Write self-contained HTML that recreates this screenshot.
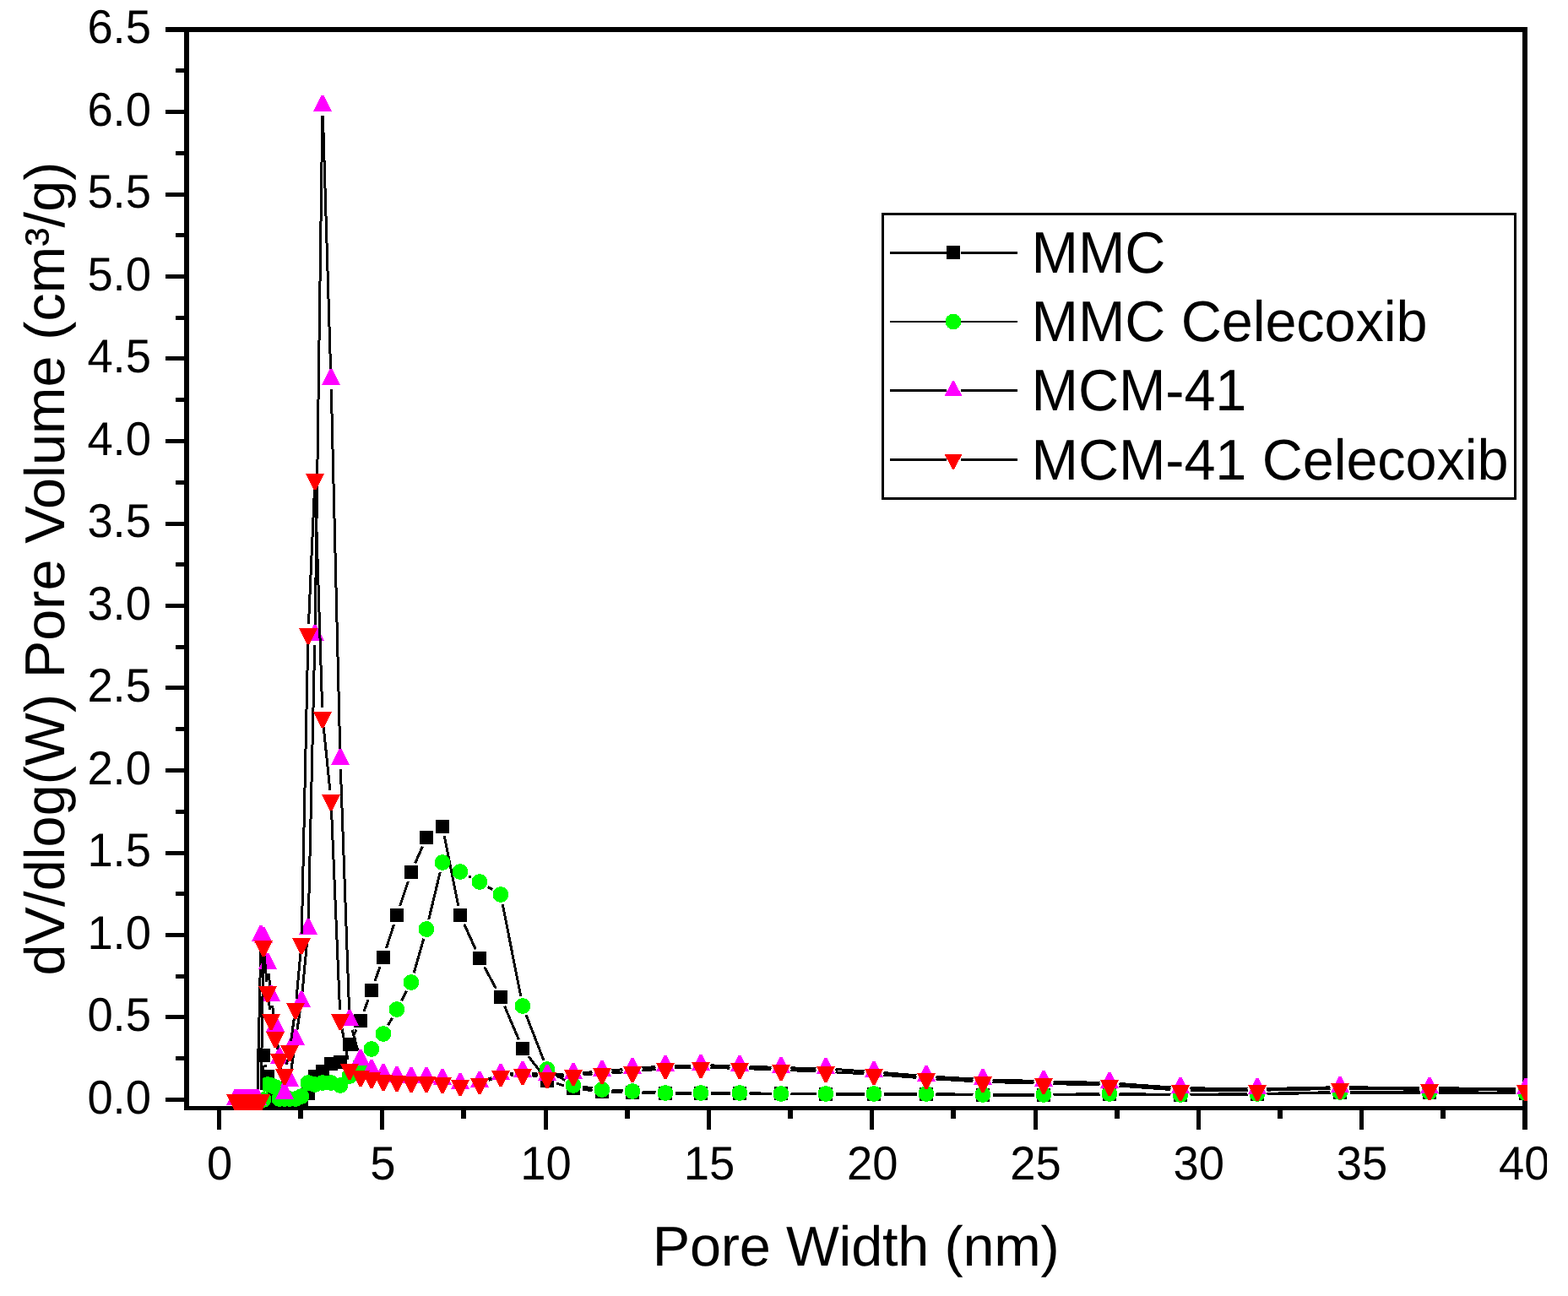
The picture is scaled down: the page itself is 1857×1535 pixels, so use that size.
<!DOCTYPE html>
<html lang="en"><head><meta charset="utf-8"><title>Pore size distribution</title>
<style>html,body{margin:0;padding:0;background:#fff}svg{display:block}text{text-rendering:geometricPrecision;font-family:"Liberation Sans",sans-serif;fill:#000}.t{font-size:54.4px}.b{font-size:66.6px}</style></head><body>
<svg width="1857" height="1535" viewBox="0 0 1857 1535">
<rect width="1857" height="1535" fill="#fff"/>
<g shape-rendering="crispEdges" fill="#000">
<rect x="196" y="32" width="1613" height="6"/>
<rect x="218" y="1310" width="1591" height="5"/>
<rect x="218" y="32" width="6" height="1283"/>
<rect x="1803" y="32" width="6" height="1306"/>
<rect x="196" y="1300" width="24" height="5"/>
<rect x="208" y="1251" width="12" height="5"/>
<rect x="196" y="1202" width="24" height="5"/>
<rect x="208" y="1154" width="12" height="5"/>
<rect x="196" y="1105" width="24" height="5"/>
<rect x="208" y="1056" width="12" height="5"/>
<rect x="196" y="1008" width="24" height="5"/>
<rect x="208" y="959" width="12" height="5"/>
<rect x="196" y="910" width="24" height="5"/>
<rect x="208" y="861" width="12" height="5"/>
<rect x="196" y="812" width="24" height="5"/>
<rect x="208" y="764" width="12" height="5"/>
<rect x="196" y="715" width="24" height="5"/>
<rect x="208" y="666" width="12" height="5"/>
<rect x="196" y="618" width="24" height="5"/>
<rect x="208" y="569" width="12" height="5"/>
<rect x="196" y="520" width="24" height="5"/>
<rect x="208" y="471" width="12" height="5"/>
<rect x="196" y="422" width="24" height="5"/>
<rect x="208" y="374" width="12" height="5"/>
<rect x="196" y="325" width="24" height="5"/>
<rect x="208" y="276" width="12" height="5"/>
<rect x="196" y="228" width="24" height="5"/>
<rect x="208" y="179" width="12" height="5"/>
<rect x="196" y="130" width="24" height="5"/>
<rect x="208" y="81" width="12" height="5"/>
<rect x="257" y="1313" width="5" height="25"/>
<rect x="353" y="1313" width="6" height="12"/>
<rect x="450" y="1313" width="5" height="25"/>
<rect x="546" y="1313" width="6" height="12"/>
<rect x="644" y="1313" width="5" height="25"/>
<rect x="740" y="1313" width="6" height="12"/>
<rect x="837" y="1313" width="5" height="25"/>
<rect x="933" y="1313" width="6" height="12"/>
<rect x="1030" y="1313" width="5" height="25"/>
<rect x="1126" y="1313" width="6" height="12"/>
<rect x="1224" y="1313" width="5" height="25"/>
<rect x="1320" y="1313" width="6" height="12"/>
<rect x="1417" y="1313" width="5" height="25"/>
<rect x="1513" y="1313" width="6" height="12"/>
<rect x="1610" y="1313" width="5" height="25"/>
<rect x="1706" y="1313" width="6" height="12"/>
</g>
<g class="t">
<text transform="translate(179 1318.5) scale(1 1.03)" text-anchor="end">0.0</text>
<text transform="translate(179 1221) scale(1 1.03)" text-anchor="end">0.5</text>
<text transform="translate(179 1123.5) scale(1 1.03)" text-anchor="end">1.0</text>
<text transform="translate(179 1026) scale(1 1.03)" text-anchor="end">1.5</text>
<text transform="translate(179 928.5) scale(1 1.03)" text-anchor="end">2.0</text>
<text transform="translate(179 831) scale(1 1.03)" text-anchor="end">2.5</text>
<text transform="translate(179 733.5) scale(1 1.03)" text-anchor="end">3.0</text>
<text transform="translate(179 636) scale(1 1.03)" text-anchor="end">3.5</text>
<text transform="translate(179 538.5) scale(1 1.03)" text-anchor="end">4.0</text>
<text transform="translate(179 441) scale(1 1.03)" text-anchor="end">4.5</text>
<text transform="translate(179 343.5) scale(1 1.03)" text-anchor="end">5.0</text>
<text transform="translate(179 246) scale(1 1.03)" text-anchor="end">5.5</text>
<text transform="translate(179 148.5) scale(1 1.03)" text-anchor="end">6.0</text>
<text transform="translate(179 51) scale(1 1.03)" text-anchor="end">6.5</text>
<text transform="translate(260 1397) scale(1 1.03)" text-anchor="middle">0</text>
<text transform="translate(453.3 1397) scale(1 1.03)" text-anchor="middle">5</text>
<text transform="translate(646.6 1397) scale(1 1.03)" text-anchor="middle">10</text>
<text transform="translate(839.9 1397) scale(1 1.03)" text-anchor="middle">15</text>
<text transform="translate(1033.2 1397) scale(1 1.03)" text-anchor="middle">20</text>
<text transform="translate(1226.5 1397) scale(1 1.03)" text-anchor="middle">25</text>
<text transform="translate(1419.8 1397) scale(1 1.03)" text-anchor="middle">30</text>
<text transform="translate(1613.1 1397) scale(1 1.03)" text-anchor="middle">35</text>
<clipPath id="k"><rect x="1760" y="1340" width="72" height="70"/></clipPath>
<g clip-path="url(#k)"><text transform="translate(1805.3 1397) scale(1 1.03)" text-anchor="middle">40</text></g>
</g>
<text class="b" transform="translate(1013.6 1498.6) scale(1 1.0)" text-anchor="middle" letter-spacing="-0.2">Pore Width (nm)</text>
<text class="b" transform="translate(76 673.5) rotate(-90) scale(1 1.0)" text-anchor="middle" letter-spacing="0.06">dV/dlog(W) Pore Volume (cm³/g)</text>
<defs><clipPath id="c"><rect x="218" y="32" width="1591" height="1283"/></clipPath></defs>
<g clip-path="url(#c)" shape-rendering="crispEdges">
<path d="M309.7 1290.5L311.3 1261.5M314.3 1261.3L314.7 1263.7M318.7 1286.4L319.3 1290.6M418.8 1226.6L422.2 1219.4M430.9 1198.2L436.1 1183.8M443.9 1162.2L450.1 1144.8M457.5 1123L466.5 1095M473.6 1073.1L483.4 1043.9M491.6 1022.5L500.4 1002.5M526.3 990.3L542.7 1072.7M549.7 1094.5L563.3 1124.5M573.5 1145.1L587.5 1170.9M597.5 1191.6L614.5 1231.4M626 1251.1L641 1270.9M659 1283.2L668 1285.8M690.4 1290.3L701.6 1291.7M724.5 1293.3L737.5 1293.7M760.5 1294.3L776.5 1294.7M799.5 1295L818.5 1295M841.5 1295L864.5 1295M887.5 1295L913.5 1295M936.5 1295.2L966.5 1295.8M989.5 1296L1023.5 1296M1046.5 1296L1085.5 1296M1108.5 1296.2L1152.5 1296.8M1175.5 1297L1224.5 1297M1247.5 1296.9L1302.5 1296.1M1325.5 1296.1L1386.5 1296.9M1409.5 1296.9L1477.5 1296.1M1500.5 1295.8L1575.5 1294.2M1598.5 1294L1681.5 1294M1704.5 1294.1L1795.5 1294.9" fill="none" stroke="#000" stroke-width="3"/>
<path d="M301 1294h16v16h-16zM304 1242h16v16h-16zM309 1267h16v16h-16zM313 1294h16v16h-16zM318 1294h16v16h-16zM323 1294h16v16h-16zM329 1294h16v16h-16zM335 1294h16v16h-16zM342 1294h16v16h-16zM349 1294h16v16h-16zM357 1287h16v16h-16zM365 1267h16v16h-16zM374 1261h16v16h-16zM384 1252h16v16h-16zM395 1250h16v16h-16zM406 1229h16v16h-16zM419 1201h16v16h-16zM432 1165h16v16h-16zM446 1126h16v16h-16zM462 1076h16v16h-16zM479 1025h16v16h-16zM497 984h16v16h-16zM516 971h16v16h-16zM537 1076h16v16h-16zM560 1127h16v16h-16zM585 1173h16v16h-16zM611 1234h16v16h-16zM640 1272h16v16h-16zM671 1281h16v16h-16zM705 1285h16v16h-16zM741 1286h16v16h-16zM780 1287h16v16h-16zM822 1287h16v16h-16zM868 1287h16v16h-16zM917 1287h16v16h-16zM970 1288h16v16h-16zM1027 1288h16v16h-16zM1089 1288h16v16h-16zM1156 1289h16v16h-16zM1228 1289h16v16h-16zM1306 1288h16v16h-16zM1390 1289h16v16h-16zM1481 1288h16v16h-16zM1579 1286h16v16h-16zM1685 1286h16v16h-16zM1799 1287h16v16h-16z" fill="#000"/>
<path d="M459.6 1214.4L464.4 1205.6M475.4 1185.3L481.6 1173.7M490.2 1152.4L501.8 1111.6M507.7 1089.3L521.3 1032.7M555.2 1037.8L557.8 1039.2M577.9 1050.4L583.1 1053.6M595.2 1070.8L616.8 1180.2M623.1 1202.2L643.9 1255.8M657.8 1272.5L669.2 1279.5M690.4 1287.2L701.6 1288.8M724.5 1291.1L737.5 1291.9M760.5 1293.1L776.5 1293.9M799.5 1294.5L818.5 1294.5M841.5 1294.5L864.5 1294.5M887.5 1294.7L913.5 1295.3M936.5 1295.5L966.5 1295.5M989.5 1295.5L1023.5 1295.5M1046.5 1295.5L1085.5 1295.5M1108.5 1295.7L1152.5 1296.3M1175.5 1296.5L1224.5 1296.5M1247.5 1296.4L1302.5 1295.6M1325.5 1295.6L1386.5 1296.4M1409.5 1296.4L1477.5 1295.6M1500.5 1295.3L1575.5 1293.7M1598.5 1293.5L1681.5 1293.5M1704.5 1293.6L1795.5 1294.4" fill="none" stroke="#000" stroke-width="3"/>
<path d="M302.55 1302.5a9.45 9.45 0 1 0 18.9 0a9.45 9.45 0 1 0 -18.9 0zM307.55 1284.5a9.45 9.45 0 1 0 18.9 0a9.45 9.45 0 1 0 -18.9 0zM311.55 1285.5a9.45 9.45 0 1 0 18.9 0a9.45 9.45 0 1 0 -18.9 0zM316.55 1287.5a9.45 9.45 0 1 0 18.9 0a9.45 9.45 0 1 0 -18.9 0zM321.55 1301.5a9.45 9.45 0 1 0 18.9 0a9.45 9.45 0 1 0 -18.9 0zM327.55 1301.5a9.45 9.45 0 1 0 18.9 0a9.45 9.45 0 1 0 -18.9 0zM333.55 1301.5a9.45 9.45 0 1 0 18.9 0a9.45 9.45 0 1 0 -18.9 0zM340.55 1301.5a9.45 9.45 0 1 0 18.9 0a9.45 9.45 0 1 0 -18.9 0zM347.55 1298.5a9.45 9.45 0 1 0 18.9 0a9.45 9.45 0 1 0 -18.9 0zM355.55 1282.5a9.45 9.45 0 1 0 18.9 0a9.45 9.45 0 1 0 -18.9 0zM363.55 1284.5a9.45 9.45 0 1 0 18.9 0a9.45 9.45 0 1 0 -18.9 0zM372.55 1282.5a9.45 9.45 0 1 0 18.9 0a9.45 9.45 0 1 0 -18.9 0zM382.55 1282.5a9.45 9.45 0 1 0 18.9 0a9.45 9.45 0 1 0 -18.9 0zM393.55 1285.5a9.45 9.45 0 1 0 18.9 0a9.45 9.45 0 1 0 -18.9 0zM404.55 1274.5a9.45 9.45 0 1 0 18.9 0a9.45 9.45 0 1 0 -18.9 0zM417.55 1260.5a9.45 9.45 0 1 0 18.9 0a9.45 9.45 0 1 0 -18.9 0zM430.55 1242.5a9.45 9.45 0 1 0 18.9 0a9.45 9.45 0 1 0 -18.9 0zM444.55 1224.5a9.45 9.45 0 1 0 18.9 0a9.45 9.45 0 1 0 -18.9 0zM460.55 1195.5a9.45 9.45 0 1 0 18.9 0a9.45 9.45 0 1 0 -18.9 0zM477.55 1163.5a9.45 9.45 0 1 0 18.9 0a9.45 9.45 0 1 0 -18.9 0zM495.55 1100.5a9.45 9.45 0 1 0 18.9 0a9.45 9.45 0 1 0 -18.9 0zM514.55 1021.5a9.45 9.45 0 1 0 18.9 0a9.45 9.45 0 1 0 -18.9 0zM535.55 1032.5a9.45 9.45 0 1 0 18.9 0a9.45 9.45 0 1 0 -18.9 0zM558.55 1044.5a9.45 9.45 0 1 0 18.9 0a9.45 9.45 0 1 0 -18.9 0zM583.55 1059.5a9.45 9.45 0 1 0 18.9 0a9.45 9.45 0 1 0 -18.9 0zM609.55 1191.5a9.45 9.45 0 1 0 18.9 0a9.45 9.45 0 1 0 -18.9 0zM638.55 1266.5a9.45 9.45 0 1 0 18.9 0a9.45 9.45 0 1 0 -18.9 0zM669.55 1285.5a9.45 9.45 0 1 0 18.9 0a9.45 9.45 0 1 0 -18.9 0zM703.55 1290.5a9.45 9.45 0 1 0 18.9 0a9.45 9.45 0 1 0 -18.9 0zM739.55 1292.5a9.45 9.45 0 1 0 18.9 0a9.45 9.45 0 1 0 -18.9 0zM778.55 1294.5a9.45 9.45 0 1 0 18.9 0a9.45 9.45 0 1 0 -18.9 0zM820.55 1294.5a9.45 9.45 0 1 0 18.9 0a9.45 9.45 0 1 0 -18.9 0zM866.55 1294.5a9.45 9.45 0 1 0 18.9 0a9.45 9.45 0 1 0 -18.9 0zM915.55 1295.5a9.45 9.45 0 1 0 18.9 0a9.45 9.45 0 1 0 -18.9 0zM968.55 1295.5a9.45 9.45 0 1 0 18.9 0a9.45 9.45 0 1 0 -18.9 0zM1025.55 1295.5a9.45 9.45 0 1 0 18.9 0a9.45 9.45 0 1 0 -18.9 0zM1087.55 1295.5a9.45 9.45 0 1 0 18.9 0a9.45 9.45 0 1 0 -18.9 0zM1154.55 1296.5a9.45 9.45 0 1 0 18.9 0a9.45 9.45 0 1 0 -18.9 0zM1226.55 1296.5a9.45 9.45 0 1 0 18.9 0a9.45 9.45 0 1 0 -18.9 0zM1304.55 1295.5a9.45 9.45 0 1 0 18.9 0a9.45 9.45 0 1 0 -18.9 0zM1388.55 1296.5a9.45 9.45 0 1 0 18.9 0a9.45 9.45 0 1 0 -18.9 0zM1479.55 1295.5a9.45 9.45 0 1 0 18.9 0a9.45 9.45 0 1 0 -18.9 0zM1577.55 1293.5a9.45 9.45 0 1 0 18.9 0a9.45 9.45 0 1 0 -18.9 0zM1683.55 1293.5a9.45 9.45 0 1 0 18.9 0a9.45 9.45 0 1 0 -18.9 0zM1797.55 1294.5a9.45 9.45 0 1 0 18.9 0a9.45 9.45 0 1 0 -18.9 0z" fill="#0f0"/>
<path d="M305.2 1291.2L308.8 1120.2M313.8 1122.1L315.2 1130.3M318.2 1153.1L319.8 1168.3M322.6 1191.1L324.4 1204.3M327.5 1227.1L329.5 1242.3M332.6 1265.1L335.4 1284.3M344.6 1269.3L348.4 1243.1M351.8 1220.3L355.2 1198.1M358.1 1175.2L363.9 1112.2M365.3 1089.2L372.7 764.2M373.2 741.2L381.8 137.2M382.4 137.2L391.6 438.2M392.3 461.2L402.7 888.2M403.4 911.2L413.6 1197.2M417.1 1219.8L423.9 1244.6M578.8 1277.8L582.2 1276.6M604.4 1271.4L607.6 1271M630.4 1271.3L636.6 1272.1M659.5 1273L667.5 1272.4M690.5 1270.7L701.5 1269.7M724.5 1267.7L737.5 1266.7M760.5 1264.8L776.5 1263.6M799.5 1262.4L818.5 1262M841.5 1261.9L864.5 1262.5M887.5 1263.2L913.5 1264.2M936.5 1264.9L966.5 1265.5M989.5 1266.5L1023.5 1268.9M1046.5 1270.6L1085.5 1273.8M1108.5 1275.4L1152.5 1278M1175.5 1279L1224.5 1280.4M1247.5 1281L1302.5 1282.4M1325.5 1283.5L1386.5 1287.9M1409.5 1288.8L1477.5 1289.6M1500.5 1289.5L1575.5 1287.9M1598.5 1287.8L1681.5 1288.6M1704.5 1288.8L1795.5 1289.6" fill="none" stroke="#000" stroke-width="3"/>
<path d="M277.4 1290L280.6 1290L290.2 1309L267.8 1309zM279.4 1290L282.6 1290L292.2 1309L269.8 1309zM280.4 1290L283.6 1290L293.2 1309L270.8 1309zM282.4 1290L285.6 1290L295.2 1309L272.8 1309zM284.4 1290L287.6 1290L297.2 1309L274.8 1309zM286.4 1290L289.6 1290L299.2 1309L276.8 1309zM288.4 1290L291.6 1290L301.2 1309L278.8 1309zM291.4 1290L294.6 1290L304.2 1309L281.8 1309zM293.4 1290L296.6 1290L306.2 1309L283.8 1309zM296.4 1290L299.6 1290L309.2 1309L286.8 1309zM299.4 1290L302.6 1290L312.2 1309L289.8 1309zM303.4 1290L306.6 1290L316.2 1309L293.8 1309zM307.4 1096L310.6 1096L320.2 1115L297.8 1115zM310.4 1098L313.6 1098L323.2 1117L300.8 1117zM315.4 1129L318.6 1129L328.2 1148L305.8 1148zM319.4 1167L322.6 1167L332.2 1186L309.8 1186zM324.4 1203L327.6 1203L337.2 1222L314.8 1222zM329.4 1241L332.6 1241L342.2 1260L319.8 1260zM335.4 1283L338.6 1283L348.2 1302L325.8 1302zM341.4 1268L344.6 1268L354.2 1287L331.8 1287zM348.4 1219L351.6 1219L361.2 1238L338.8 1238zM355.4 1174L358.6 1174L368.2 1193L345.8 1193zM363.4 1088L366.6 1088L376.2 1107L353.8 1107zM371.4 740L374.6 740L384.2 759L361.8 759zM380.4 113L383.6 113L393.2 132L370.8 132zM390.4 437L393.6 437L403.2 456L380.8 456zM401.4 887L404.6 887L414.2 906L391.8 906zM412.4 1196L415.6 1196L425.2 1215L402.8 1215zM425.4 1243L428.6 1243L438.2 1262L415.8 1262zM438.4 1255L441.6 1255L451.2 1274L428.8 1274zM452.4 1260L455.6 1260L465.2 1279L442.8 1279zM468.4 1263L471.6 1263L481.2 1282L458.8 1282zM485.4 1264L488.6 1264L498.2 1283L475.8 1283zM503.4 1264L506.6 1264L516.2 1283L493.8 1283zM522.4 1266L525.6 1266L535.2 1285L512.8 1285zM543.4 1271L546.6 1271L556.2 1290L533.8 1290zM566.4 1269L569.6 1269L579.2 1288L556.8 1288zM591.4 1260L594.6 1260L604.2 1279L581.8 1279zM617.4 1257L620.6 1257L630.2 1276L607.8 1276zM646.4 1261L649.6 1261L659.2 1280L636.8 1280zM677.4 1259L680.6 1259L690.2 1278L667.8 1278zM711.4 1256L714.6 1256L724.2 1275L701.8 1275zM747.4 1253L750.6 1253L760.2 1272L737.8 1272zM786.4 1250L789.6 1250L799.2 1269L776.8 1269zM828.4 1249L831.6 1249L841.2 1268L818.8 1268zM874.4 1250L877.6 1250L887.2 1269L864.8 1269zM923.4 1252L926.6 1252L936.2 1271L913.8 1271zM976.4 1253L979.6 1253L989.2 1272L966.8 1272zM1033.4 1257L1036.6 1257L1046.2 1276L1023.8 1276zM1095.4 1262L1098.6 1262L1108.2 1281L1085.8 1281zM1162.4 1266L1165.6 1266L1175.2 1285L1152.8 1285zM1234.4 1268L1237.6 1268L1247.2 1287L1224.8 1287zM1312.4 1270L1315.6 1270L1325.2 1289L1302.8 1289zM1396.4 1276L1399.6 1276L1409.2 1295L1386.8 1295zM1487.4 1277L1490.6 1277L1500.2 1296L1477.8 1296zM1585.4 1275L1588.6 1275L1598.2 1294L1575.8 1294zM1691.4 1276L1694.6 1276L1704.2 1295L1681.8 1295zM1805.4 1277L1808.6 1277L1818.2 1296L1795.8 1296z" fill="#f0f"/>
<path d="M309.2 1290.8L311.8 1131.8M313.1 1131.8L315.9 1162.8M318.4 1185.7L319.6 1195.9M328.2 1239.6L328.8 1243M339.4 1261.1L340.6 1255.5M344.6 1232.9L348.4 1205.7M351 1182.8L356 1128.8M357.3 1105.8L364.7 761.8M365.5 738.8L372.5 578.8M373.4 578.8L381.6 837.8M383.2 860.7L390.8 935.9M392.5 958.8L402.5 1195.8M405.1 1218.6L411.9 1255M578.8 1279.4L582.2 1278.2M604.5 1273.4L607.5 1273.2M630.4 1273.9L636.6 1274.7M659.4 1275.2L667.6 1274.4M690.5 1272.6L701.5 1272M724.5 1270.7L737.5 1269.9M760.4 1268.1L776.6 1266.5M799.5 1265L818.5 1264.6M841.5 1264.5L864.5 1265.1M887.5 1265.8L913.5 1266.8M936.5 1267.7L966.5 1268.9M989.5 1269.9L1023.5 1271.7M1046.5 1273.2L1085.5 1276.4M1108.5 1278L1152.5 1280.6M1175.5 1281.6L1224.5 1283M1247.5 1283.6L1302.5 1285M1325.5 1286.1L1386.5 1290.5M1409.5 1291.3L1477.5 1291.3M1500.5 1291.1L1575.5 1289.5M1598.5 1289.4L1681.5 1290.2M1704.5 1290.4L1795.5 1291.2" fill="none" stroke="#000" stroke-width="3"/>
<path d="M267.8 1296L290.2 1296L280.6 1315L277.4 1315zM269.8 1296L292.2 1296L282.6 1315L279.4 1315zM270.8 1296L293.2 1296L283.6 1315L280.4 1315zM272.8 1296L295.2 1296L285.6 1315L282.4 1315zM274.8 1296L297.2 1296L287.6 1315L284.4 1315zM276.8 1296L299.2 1296L289.6 1315L286.4 1315zM278.8 1296L301.2 1296L291.6 1315L288.4 1315zM281.8 1296L304.2 1296L294.6 1315L291.4 1315zM283.8 1296L306.2 1296L296.6 1315L293.4 1315zM286.8 1296L309.2 1296L299.6 1315L296.4 1315zM289.8 1296L312.2 1296L302.6 1315L299.4 1315zM293.8 1296L316.2 1296L306.6 1315L303.4 1315zM297.8 1296L320.2 1296L310.6 1315L307.4 1315zM300.8 1114L323.2 1114L313.6 1133L310.4 1133zM305.8 1168L328.2 1168L318.6 1187L315.4 1187zM309.8 1201L332.2 1201L322.6 1220L319.4 1220zM314.8 1222L337.2 1222L327.6 1241L324.4 1241zM319.8 1248L342.2 1248L332.6 1267L329.4 1267zM325.8 1266L348.2 1266L338.6 1285L335.4 1285zM331.8 1238L354.2 1238L344.6 1257L341.4 1257zM338.8 1188L361.2 1188L351.6 1207L348.4 1207zM345.8 1111L368.2 1111L358.6 1130L355.4 1130zM353.8 744L376.2 744L366.6 763L363.4 763zM361.8 561L384.2 561L374.6 580L371.4 580zM370.8 843L393.2 843L383.6 862L380.4 862zM380.8 941L403.2 941L393.6 960L390.4 960zM391.8 1201L414.2 1201L404.6 1220L401.4 1220zM402.8 1260L425.2 1260L415.6 1279L412.4 1279zM415.8 1268L438.2 1268L428.6 1287L425.4 1287zM428.8 1270L451.2 1270L441.6 1289L438.4 1289zM442.8 1273L465.2 1273L455.6 1292L452.4 1292zM458.8 1274L481.2 1274L471.6 1293L468.4 1293zM475.8 1275L498.2 1275L488.6 1294L485.4 1294zM493.8 1275L516.2 1275L506.6 1294L503.4 1294zM512.8 1276L535.2 1276L525.6 1295L522.4 1295zM533.8 1279L556.2 1279L546.6 1298L543.4 1298zM556.8 1277L579.2 1277L569.6 1296L566.4 1296zM581.8 1268L604.2 1268L594.6 1287L591.4 1287zM607.8 1266L630.2 1266L620.6 1285L617.4 1285zM636.8 1270L659.2 1270L649.6 1289L646.4 1289zM667.8 1267L690.2 1267L680.6 1286L677.4 1286zM701.8 1265L724.2 1265L714.6 1284L711.4 1284zM737.8 1263L760.2 1263L750.6 1282L747.4 1282zM776.8 1259L799.2 1259L789.6 1278L786.4 1278zM818.8 1258L841.2 1258L831.6 1277L828.4 1277zM864.8 1259L887.2 1259L877.6 1278L874.4 1278zM913.8 1261L936.2 1261L926.6 1280L923.4 1280zM966.8 1263L989.2 1263L979.6 1282L976.4 1282zM1023.8 1266L1046.2 1266L1036.6 1285L1033.4 1285zM1085.8 1271L1108.2 1271L1098.6 1290L1095.4 1290zM1152.8 1275L1175.2 1275L1165.6 1294L1162.4 1294zM1224.8 1277L1247.2 1277L1237.6 1296L1234.4 1296zM1302.8 1279L1325.2 1279L1315.6 1298L1312.4 1298zM1386.8 1285L1409.2 1285L1399.6 1304L1396.4 1304zM1477.8 1285L1500.2 1285L1490.6 1304L1487.4 1304zM1575.8 1283L1598.2 1283L1588.6 1302L1585.4 1302zM1681.8 1284L1704.2 1284L1694.6 1303L1691.4 1303zM1795.8 1285L1818.2 1285L1808.6 1304L1805.4 1304z" fill="#f00"/>
</g>
<g shape-rendering="crispEdges">
<rect x="1045.5" y="253.5" width="749" height="337" fill="#fff" stroke="#000" stroke-width="3"/>
<rect x="1054" y="298" width="66.5" height="3" fill="#000"/>
<rect x="1137.5" y="298" width="67.5" height="3" fill="#000"/>
<rect x="1054" y="380" width="66.5" height="2" fill="#000"/>
<rect x="1137.5" y="380" width="67.5" height="2" fill="#000"/>
<rect x="1054" y="461" width="66.5" height="3" fill="#000"/>
<rect x="1137.5" y="461" width="67.5" height="3" fill="#000"/>
<rect x="1054" y="543" width="66.5" height="3" fill="#000"/>
<rect x="1137.5" y="543" width="67.5" height="3" fill="#000"/>
<rect x="1121" y="291" width="16" height="16" fill="#000"/>
<path d="M1119.55 381a9.45 9.45 0 1 0 18.9 0a9.45 9.45 0 1 0 -18.9 0z" fill="#0f0"/>
<path d="M1128 451L1130 451L1139.4 469L1118.6 469z" fill="#f0f"/>
<path d="M1118.6 538L1139.4 538L1130 556L1128 556z" fill="#f00"/>
</g>
<g class="b">
<text transform="translate(1221.5 322.5) scale(1 1.04)" letter-spacing="-0.08">MMC</text>
<text transform="translate(1221.5 403.5) scale(1 1.02)" letter-spacing="-0.08">MMC Celecoxib</text>
<text transform="translate(1221.5 485.5) scale(1 1.04)" letter-spacing="-0.08">MCM-41</text>
<text transform="translate(1221.5 567.5) scale(1 1.02)" letter-spacing="-0.08">MCM-41 Celecoxib</text>
</g>
</svg></body></html>
